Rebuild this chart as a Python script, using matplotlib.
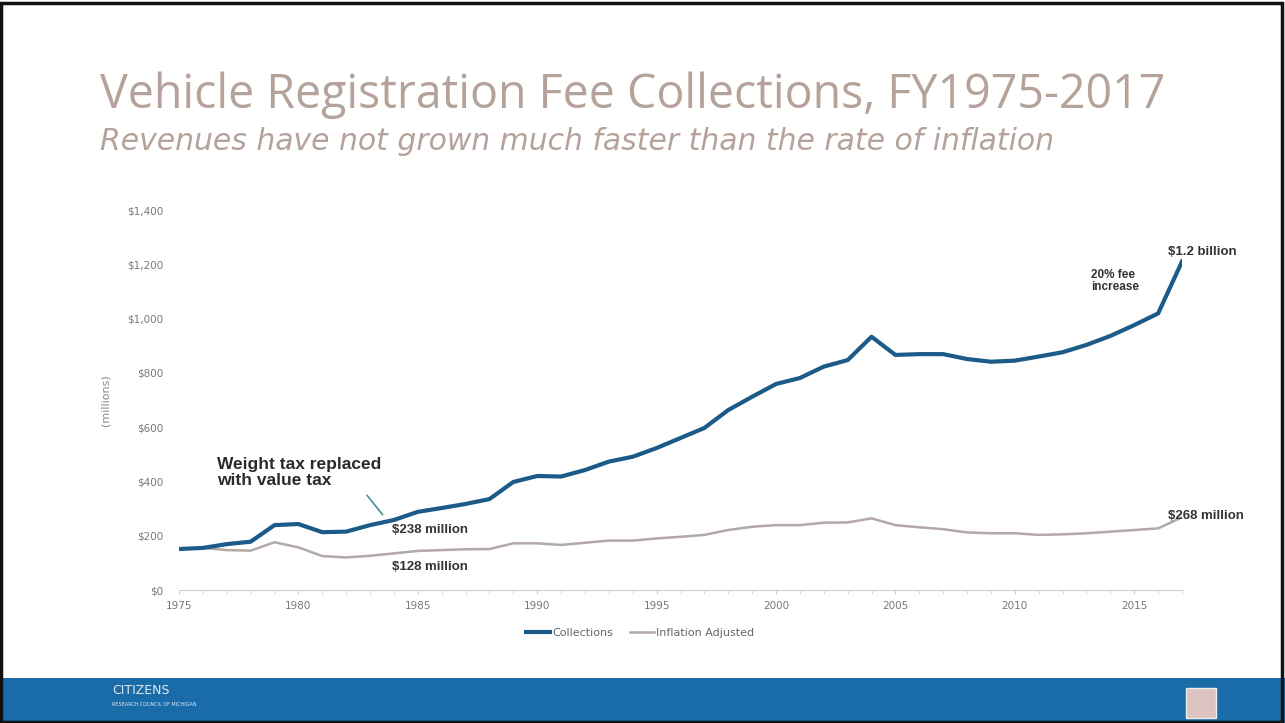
import numpy as np
import matplotlib
matplotlib.use("Agg")
import matplotlib.pyplot as plt
from matplotlib.patches import Rectangle
from matplotlib.lines import Line2D

years = list(range(1975, 2018))
collections = [151, 155, 169, 178, 239, 243, 213, 215, 239, 258, 288, 302, 317, 335, 398, 420, 418, 442, 473,
               491, 523, 560, 597, 663, 712, 759, 781, 823, 847, 933, 866, 869, 869, 851, 841, 845, 860, 876,
               903, 936, 976, 1019, 1210]
inflation_adj = [151, 155, 147, 145, 176, 157, 125, 120, 126, 135, 144, 147, 150, 151, 172, 172, 166, 174, 182,
                 182, 190, 196, 203, 221, 233, 239, 239, 248, 249, 264, 239, 231, 224, 212, 209, 209, 203, 205,
                 209, 215, 221, 227, 268]
yticks = [0, 200, 400, 600, 800, 1000, 1200, 1400]
xticks = [1975, 1980, 1985, 1990, 1995, 2000, 2005, 2010, 2015]

blue = "#1c5a87"
grey = "#b3a9a7"
title_col = "#b4a29b"

fig = plt.figure(figsize=(12.85, 7.23), dpi=100)
fig.patch.set_facecolor("white")

# slide title
fig.text(100 / 1285, 1 - 95 / 723, "Vehicle Registration Fee Collections, FY1975-2017",
         fontsize=33.5, color=title_col, family="Open Sans", va="center", ha="left")
fig.text(100 / 1285, 1 - 141 / 723, "Revenues have not grown much faster than the rate of inflation",
         fontsize=21.5, color=title_col, family="DejaVu Sans", style="italic", va="center", ha="left")

ax = fig.add_axes([179 / 1285, 1 - 590 / 723, (1182 - 179) / 1285, (590 - 210) / 723])
ax.plot(years, inflation_adj, color=grey, lw=1.8, zorder=2)
ax.plot(years, collections, color=blue, lw=3.0, zorder=3, solid_joinstyle="round")

ax.set_xlim(1975, 2017)
ax.set_ylim(0, 1400)
ax.set_yticks(yticks)
ax.set_yticklabels(["$0"] + ["${:,}".format(v) for v in yticks[1:]])
ax.set_xticks(xticks)
ax.set_xticks(years, minor=True)
for s in ["top", "right", "left"]:
    ax.spines[s].set_visible(False)
ax.spines["bottom"].set_color("#cfcfcf")
ax.tick_params(axis="y", length=0, labelsize=7.5, labelcolor="#777777", pad=11)
ax.tick_params(axis="x", which="both", length=3, color="#cfcfcf", labelsize=7.5,
               labelcolor="#777777", pad=5)
ax.set_ylabel("(millions)", fontsize=8, color="#888888", labelpad=12)

# annotations
ax.text(1976.6, 490, "Weight tax replaced\nwith value tax", fontsize=12.5, color="#2a2a2a",
        family="Liberation Sans", fontweight="bold", ha="left", va="top", linespacing=1.1)
ax.annotate("", xy=(1983.6, 269), xytext=(1982.8, 357),
            arrowprops=dict(arrowstyle="-", color="#4d8a99", lw=1.2))
lab = dict(fontsize=9.5, fontweight="bold", color="#333333", va="center", family="Liberation Sans")
ax.text(1983.9, 221, "$238 million", **lab)
ax.text(1983.9, 85, "$128 million", **lab)
ax.text(2016.4, 1245, "$1.2 billion", clip_on=False, **lab)
ax.text(2016.4, 273, "$268 million", clip_on=False, **lab)
ax.text(2013.2, 1138, "20% fee\nincrease", fontsize=8.5, fontweight="bold", color="#333333",
        family="Liberation Sans", va="center", linespacing=1.0)

handles = [Line2D([], [], color=blue, lw=3.0), Line2D([], [], color=grey, lw=1.8)]
fig.legend(handles, ["Collections", "Inflation Adjusted"], loc="center",
           bbox_to_anchor=(640 / 1285, 1 - 633 / 723), ncol=2, frameon=False, fontsize=8,
           handlelength=2.2, handletextpad=0.2, columnspacing=1.5, labelcolor="#666666")

# footer band
fig.patches.append(Rectangle((0, 0), 1, 45 / 723, transform=fig.transFigure,
                             facecolor="#1a6ca9", edgecolor="none", zorder=0))
fig.text(112 / 1285, 1 - 690 / 723, "CITIZENS", fontsize=9, color="#dfe9f2", va="center", ha="left")
fig.text(112 / 1285, 1 - 705 / 723, "RESEARCH COUNCIL OF MICHIGAN", fontsize=3.5, color="#dfe9f2",
         va="center", ha="left")
fig.patches.append(Rectangle((1186 / 1285, 5 / 723), 30 / 1285, 30 / 723, transform=fig.transFigure,
                             facecolor="#dcc4c1", edgecolor="#eeeeee", lw=1, zorder=1))
# scanned slide border
fig.patches.append(Rectangle((0.001, 0.002), 0.997, 0.994, transform=fig.transFigure,
                             facecolor="none", edgecolor="#111111", lw=2.5, zorder=5))

fig.savefig("out.png", dpi=100)
